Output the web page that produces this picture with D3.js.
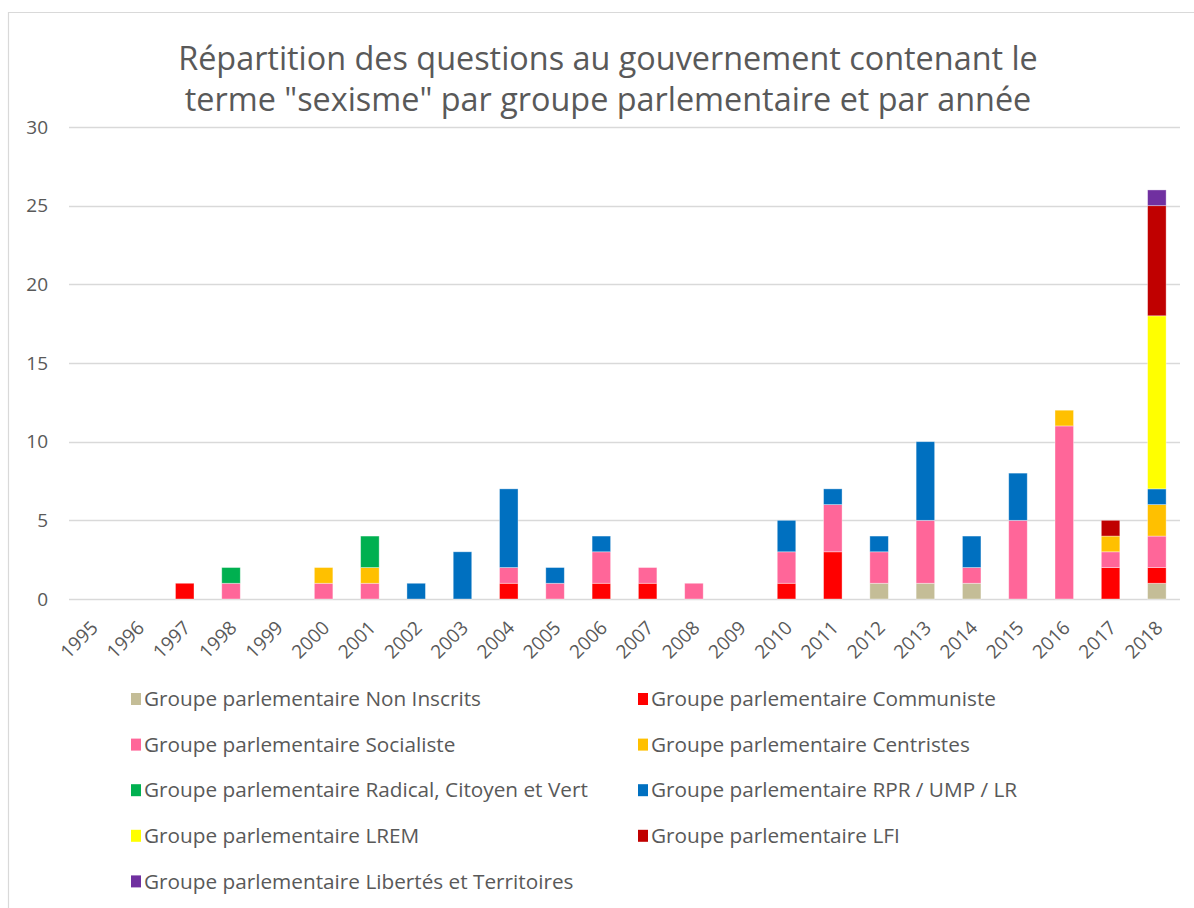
<!DOCTYPE html>
<html>
<head>
<meta charset="utf-8">
<script src="https://cdn.jsdelivr.net/npm/d3@7"></script>
<style>
  html, body { margin: 0; padding: 0; background: #fff; }
  svg { display: block; }
  text { font-family: "Open Sans", "Noto Sans", sans-serif; fill: #595959; }
</style>
</head>
<body>
<svg id="chart" width="1194" height="908"></svg>
<script>
// ---- Data ----
const years = ["1995","1996","1997","1998","1999","2000","2001","2002","2003","2004","2005","2006",
               "2007","2008","2009","2010","2011","2012","2013","2014","2015","2016","2017","2018"];
const groups = [
  "Groupe parlementaire Non Inscrits",
  "Groupe parlementaire Communiste",
  "Groupe parlementaire Socialiste",
  "Groupe parlementaire Centristes",
  "Groupe parlementaire Radical, Citoyen et Vert",
  "Groupe parlementaire RPR / UMP / LR",
  "Groupe parlementaire LREM",
  "Groupe parlementaire LFI",
  "Groupe parlementaire Libertés et Territoires"
];
const colors = ["#C4BD97","#FF0000","#FF6699","#FFC000","#00B050","#0070C0","#FFFF00","#C00000","#7030A0"];
//                        95 96 97 98 99 00 01 02 03 04 05 06 07 08 09 10 11 12 13 14 15 16 17 18
const nonInscrits     = [0, 0, 0, 0, 0, 0, 0, 0, 0, 0, 0, 0, 0, 0, 0, 0, 0, 1, 1, 1, 0, 0, 0, 1];
const communiste      = [0, 0, 1, 0, 0, 0, 0, 0, 0, 1, 0, 1, 1, 0, 0, 1, 3, 0, 0, 0, 0, 0, 2, 1];
const socialiste      = [0, 0, 0, 1, 0, 1, 1, 0, 0, 1, 1, 2, 1, 1, 0, 2, 3, 2, 4, 1, 5,11, 1, 2];
const centristes      = [0, 0, 0, 0, 0, 1, 1, 0, 0, 0, 0, 0, 0, 0, 0, 0, 0, 0, 0, 0, 0, 1, 1, 2];
const radical         = [0, 0, 0, 1, 0, 0, 2, 0, 0, 0, 0, 0, 0, 0, 0, 0, 0, 0, 0, 0, 0, 0, 0, 0];
const rprUmpLr        = [0, 0, 0, 0, 0, 0, 0, 1, 3, 5, 1, 1, 0, 0, 0, 2, 1, 1, 5, 2, 3, 0, 0, 1];
const lrem            = [0, 0, 0, 0, 0, 0, 0, 0, 0, 0, 0, 0, 0, 0, 0, 0, 0, 0, 0, 0, 0, 0, 0,11];
const lfi             = [0, 0, 0, 0, 0, 0, 0, 0, 0, 0, 0, 0, 0, 0, 0, 0, 0, 0, 0, 0, 0, 0, 1, 7];
const libertes        = [0, 0, 0, 0, 0, 0, 0, 0, 0, 0, 0, 0, 0, 0, 0, 0, 0, 0, 0, 0, 0, 0, 0, 1];
const yTicks = [0, 5, 10, 15, 20, 25, 30];
const titleLines = ["Répartition des questions au gouvernement contenant le",
                    "terme \"sexisme\" par groupe parlementaire et par année"];

const seriesValues = [nonInscrits, communiste, socialiste, centristes, radical, rprUmpLr, lrem, lfi, libertes];

// ---- Build table ----
const table = years.map((y, i) => {
  const row = { year: y };
  groups.forEach((g, k) => row[g] = seriesValues[k][i]);
  return row;
});
const stacked = d3.stack().keys(groups)(table);

// ---- Layout ----
const svg = d3.select("#chart");
const plot = { left: 69, right: 1180, top: 127, bottom: 599 };

// outer border
svg.append("path")
  .attr("d", "M8.5,908 L8.5,12.5 L1194,12.5")
  .attr("fill", "none").attr("stroke", "#d9d9d9").attr("stroke-width", 1.2);

const x = d3.scaleBand().domain(years).range([plot.left, plot.right]).paddingInner(0.6).paddingOuter(0.3);
const y = d3.scaleLinear().domain([0, 30]).range([plot.bottom, plot.top]);

// gridlines
svg.append("g").selectAll("line").data(yTicks).join("line")
  .attr("x1", plot.left).attr("x2", plot.right)
  .attr("y1", d => Math.round(y(d)) + 0.5).attr("y2", d => Math.round(y(d)) + 0.5)
  .attr("stroke", "#d9d9d9").attr("stroke-width", 1.5);

// y axis labels
const yAxis = d3.axisLeft(y).tickValues(yTicks).tickSize(0).tickPadding(0);
const yg = svg.append("g").attr("transform", `translate(${plot.left - 21},0)`).call(yAxis);
yg.select(".domain").remove();
yg.selectAll("text").style("font-size", "19px").attr("fill", "#595959")
  .style("font-family", '"Open Sans", sans-serif');

// bars
svg.append("g").selectAll("g").data(stacked).join("g")
  .attr("fill", (d, i) => colors[i])
  .selectAll("rect").data(d => d.filter(p => p[1] - p[0] > 0)).join("rect")
  .attr("x", d => x(d.data.year))
  .attr("width", x.bandwidth())
  .attr("y", d => y(d[1]))
  .attr("height", d => y(d[0]) - y(d[1]))
  .attr("stroke", "#ffffff").attr("stroke-opacity", 0.45).attr("stroke-width", 0.8);

// x axis labels
const xAxis = d3.axisBottom(x).tickSize(0).tickPadding(0);
const xg = svg.append("g").attr("transform", `translate(0,${plot.bottom})`).call(xAxis);
xg.select(".domain").remove();
xg.selectAll("text")
  .style("font-size", "19px").attr("fill", "#595959")
  .style("font-family", '"Open Sans", sans-serif')
  .attr("text-anchor", "end")
  .attr("dy", null).attr("y", 0)
  .attr("transform", "translate(7,30) rotate(-45)");

// title
const titleSize = 32;
const tg = svg.append("g");
tg.selectAll("text").data(titleLines).join("text")
  .attr("x", 608).attr("y", (d, i) => 70 + i * 41)
  .attr("text-anchor", "middle")
  .style("font-size", titleSize + "px")
  .text(d => d);
// fit title width to reference (~860px for first line)
const t0 = tg.select("text").node().getComputedTextLength();
const fitTitle = titleSize * 860 / t0;
tg.selectAll("text").style("font-size", fitTitle + "px");

// legend
const colX = [131, 638];
const rowY0 = 699, rowStep = 45.6;
const lg = svg.append("g");
const items = lg.selectAll("g").data(groups).join("g")
  .attr("transform", (d, i) => `translate(${colX[i % 2]},${rowY0 + Math.floor(i / 2) * rowStep})`);
items.append("rect").attr("x", 0).attr("y", -6).attr("width", 10).attr("height", 12)
  .attr("fill", (d, i) => colors[i]);
const ltexts = items.append("text").attr("x", 13).attr("y", 0).attr("dy", "0.35em")
  .style("font-size", "20px").text(d => d);
const l0 = ltexts.filter((d, i) => i === 0).node().getComputedTextLength();
const fitLegend = 20 * 337 / l0;
ltexts.style("font-size", fitLegend + "px");
</script>
</body>
</html>
